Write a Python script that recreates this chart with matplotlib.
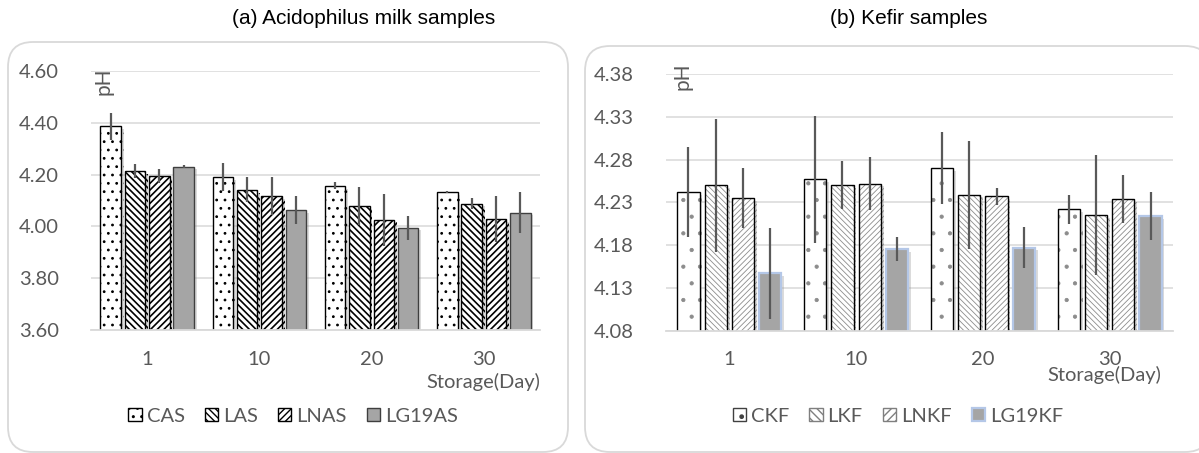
import numpy as np
import matplotlib
matplotlib.use('Agg')
import matplotlib.pyplot as plt
from matplotlib.patches import FancyBboxPatch, Patch
import matplotlib.patheffects as pe

# storage days (x categories)
days = ['1', '10', '20', '30']

# (a) acidophilus milk: pH and error
acid_names = ['CAS', 'LAS', 'LNAS', 'LG19AS']
cas = [4.387, 4.190, 4.157, 4.133]
las = [4.213, 4.141, 4.079, 4.088]
lnas = [4.194, 4.117, 4.026, 4.028]
lg19as = [4.231, 4.063, 3.995, 4.053]
cas_err = [0.052, 0.055, 0.013, 0.005]
las_err = [0.027, 0.048, 0.073, 0.020]
lnas_err = [0.028, 0.074, 0.100, 0.090]
lg19as_err = [0.006, 0.055, 0.046, 0.078]

# (b) kefir: pH and error
kef_names = ['CKF', 'LKF', 'LNKF', 'LG19KF']
ckf = [4.242, 4.257, 4.270, 4.222]
lkf = [4.250, 4.250, 4.239, 4.215]
lnkf = [4.235, 4.252, 4.237, 4.234]
lg19kf = [4.147, 4.175, 4.177, 4.214]
ckf_err = [0.053, 0.074, 0.042, 0.017]
lkf_err = [0.078, 0.028, 0.063, 0.070]
lnkf_err = [0.035, 0.031, 0.010, 0.028]
lg19kf_err = [0.053, 0.014, 0.024, 0.028]

TXT = '#595959'
GRID = '#d9d9d9'
FONT = 'Lato'
W, H = 1199, 453

fig = plt.figure(figsize=(W / 100, H / 100), dpi=100)


def hlw(p, lw):
    if hasattr(p, 'set_hatch_linewidth'):
        p.set_hatch_linewidth(lw)


def frame(x0, y0, x1, y1):
    box = FancyBboxPatch((x0 / 100, (H - y1) / 100), (x1 - x0) / 100, (y1 - y0) / 100,
                         boxstyle='round,pad=0,rounding_size=0.25',
                         transform=fig.dpi_scale_trans, facecolor='white',
                         edgecolor=GRID, lw=1.3, zorder=-10)
    fig.patches.append(box)


def setup_axes(ax, ylo, yhi, step):
    ax.set_xlim(-0.5, 3.5)
    ax.set_ylim(ylo, yhi)
    ax.set_yticks(np.round(np.arange(ylo, yhi + step / 2, step), 2))
    ax.yaxis.set_major_formatter(plt.FormatStrFormatter('%.2f'))
    ax.set_xticks(range(len(days)))
    ax.set_xticklabels(days)
    ax.grid(axis='y', color=GRID, lw=1.1, zorder=0)
    ax.set_axisbelow(True)
    for s in ['left', 'right', 'top']:
        ax.spines[s].set_visible(False)
    ax.spines['bottom'].set_color(GRID)
    ax.spines['bottom'].set_linewidth(1.3)
    ax.tick_params(axis='both', length=0, labelsize=14.5, labelcolor=TXT)
    ax.tick_params(axis='y', pad=23)
    ax.tick_params(axis='x', pad=15)
    for t in ax.get_xticklabels() + ax.get_yticklabels():
        t.set_fontfamily(FONT)


shadow = [pe.SimplePatchShadow(offset=(2, -2), shadow_rgbFace='#999999', alpha=0.35), pe.Normal()]

frame(8, 42, 568, 452)
frame(585, 46, 1210, 452)

# ---------- (a) ----------
ax1 = fig.add_axes([91 / W, (H - 330) / H, 449 / W, 259 / H])
setup_axes(ax1, 3.60, 4.60, 0.20)
x = np.arange(len(days))
step, bw = 0.217, 0.183
acid_vals = [cas, las, lnas, lg19as]
acid_errs = [cas_err, las_err, lnas_err, lg19as_err]
acid_hatch = ['..', '\\\\\\\\\\', '/////', None]
acid_face = ['white', 'white', 'white', '#a5a5a5']
acid_edge = ['black', 'black', 'black', '#3f3f3f']
for i in range(4):
    xs = x + (i - 1.5) * step
    bars = ax1.bar(xs, acid_vals[i], bw, bottom=0, color=acid_face[i], edgecolor=acid_edge[i],
                   lw=1.0, hatch=acid_hatch[i], zorder=2)
    for b in bars:
        hlw(b, 1.2 if i in (1, 2) else 0.8)
        b.set_path_effects(shadow)
    ax1.errorbar(xs, acid_vals[i], yerr=acid_errs[i], fmt='none', ecolor=TXT, elinewidth=1.6,
                 capsize=0, zorder=3)

# ---------- (b) ----------
ax2 = fig.add_axes([666 / W, (H - 330.5) / H, 507 / W, 256.2 / H])
setup_axes(ax2, 4.08, 4.38, 0.05)
step2, bw2 = 0.215, 0.174
kef_vals = [ckf, lkf, lnkf, lg19kf]
kef_errs = [ckf_err, lkf_err, lnkf_err, lg19kf_err]
kef_hatch = ['.', '\\\\\\\\\\\\', '//////', None]
for i in range(4):
    xs = x + (i - 1.5) * step2
    if i < 3:
        # hatch in grey, then a black outline on top
        bars = ax2.bar(xs, kef_vals[i], bw2, color='white', edgecolor='#8c8c8c', lw=0,
                       hatch=kef_hatch[i], zorder=2)
        for b in bars:
            hlw(b, 0.6)
            b.set_path_effects(shadow)
        ax2.bar(xs, kef_vals[i], bw2, fill=False, edgecolor='black', lw=1.0, zorder=2.1)
    else:
        bars = ax2.bar(xs, kef_vals[i], bw2, color='#a5a5a5', edgecolor='#b4c7e7', lw=1.6,
                       zorder=2)
        for b in bars:
            b.set_path_effects(shadow)
    ax2.errorbar(xs, kef_vals[i], yerr=kef_errs[i], fmt='none', ecolor=TXT, elinewidth=1.6,
                 capsize=0, zorder=3)

# axis titles
fig.text(103.5 / W, 1 - 81 / H, 'pH', rotation=90, ha='center', va='center',
         fontsize=15, color=TXT, family=FONT)
fig.text(683 / W, 1 - 76 / H, 'pH', rotation=90, ha='center', va='center',
         fontsize=15, color=TXT, family=FONT)
fig.text(483 / W, 1 - 382 / H, 'Storage(Day)', ha='center', va='center',
         fontsize=14.5, color=TXT, family=FONT)
fig.text(1104 / W, 1 - 375 / H, 'Storage(Day)', ha='center', va='center',
         fontsize=14.5, color=TXT, family=FONT)

# panel titles
fig.text(364 / W, 1 - 19 / H, '(a) Acidophilus milk samples', ha='center', va='center',
         fontsize=15, color='black', family='Liberation Sans')
fig.text(909 / W, 1 - 19 / H, '(b) Kefir samples', ha='center', va='center',
         fontsize=15, color='black', family='Liberation Sans')

# legends
h1 = [Patch(facecolor=acid_face[i], edgecolor=acid_edge[i], hatch=acid_hatch[i], lw=1.0)
      for i in range(4)]
h2 = [Patch(facecolor='white', edgecolor='#404040', hatch='.', lw=1.0),
      Patch(facecolor='white', edgecolor='#7f7f7f', hatch='\\\\\\\\', lw=1.0),
      Patch(facecolor='white', edgecolor='#7f7f7f', hatch='////', lw=1.0),
      Patch(facecolor='#a5a5a5', edgecolor='#b4c7e7', lw=1.6)]
for handles, names, cx in [(h1, acid_names, 293), (h2, kef_names, 898)]:
    leg = fig.legend(handles, names, loc='center', bbox_to_anchor=(cx / W, 1 - 416 / H),
                     ncol=4, frameon=False, handlelength=0.65, handleheight=0.65,
                     handletextpad=0.25, columnspacing=1.0,
                     prop={'family': FONT, 'size': 14.5})
    for t in leg.get_texts():
        t.set_color(TXT)

fig.savefig('out.png', dpi=100)
